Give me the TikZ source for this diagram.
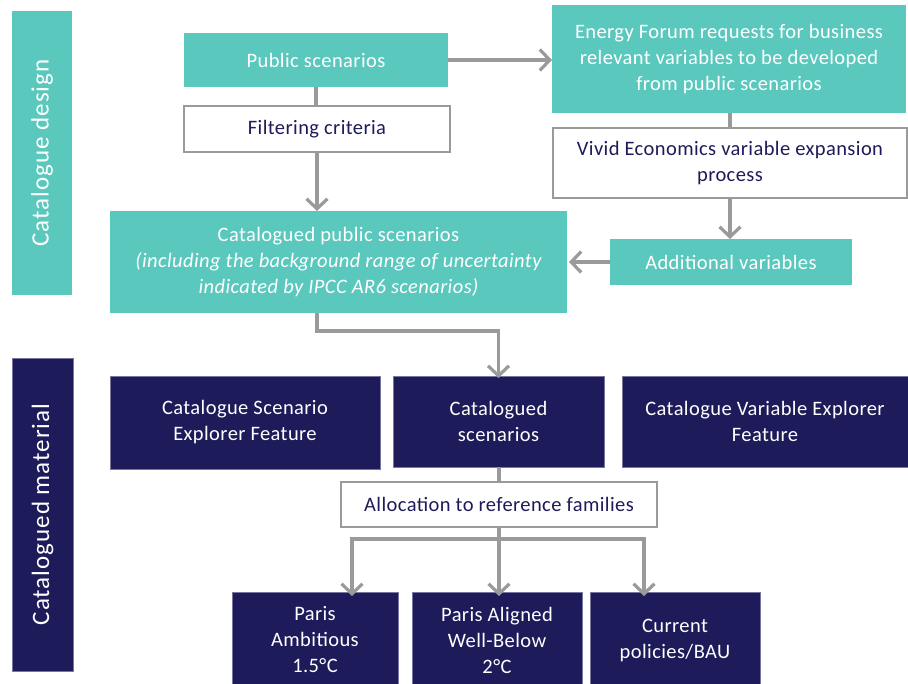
\documentclass[tikz,border=0pt]{standalone}
\usepackage{fontspec}
\setmainfont{Carlito}[LetterSpace=2]
\newfontfamily\sidefont{Carlito}[LetterSpace=4]
\usetikzlibrary{arrows.meta}

\definecolor{cteal}{RGB}{91,200,190}
\definecolor{cnavy}{RGB}{30,27,90}
\definecolor{cnavyedge}{RGB}{120,118,160}
\definecolor{cgray}{RGB}{154,154,154}

\begin{document}
\begin{tikzpicture}[x=1pt,y=-1pt,
  base/.style={rectangle, inner sep=0pt, outer sep=0pt, align=center,
               font=\fontsize{20.5}{26}\selectfont},
  tealbox/.style={base, fill=cteal, text=white},
  navybox/.style={base, fill=cnavy, text=white, draw=cnavyedge, line width=0.7pt},
  whitebox/.style={base, fill=white, draw=cgray, line width=2.5pt, text=cnavy},
  sidelabel/.style={base, font=\sidefont\fontsize{25}{28}\selectfont},
  link/.style={draw=cgray, line width=3.2pt},
  arr/.style={link, -{Straight Barb[length=10pt,width=21pt]}},
  wh/.style 2 args={minimum width=#1, minimum height=#2}
]
\useasboundingbox (0,0) rectangle (908,684);

% side bands
\node[tealbox, wh={60pt}{284pt}] (design) at (42,153) {};
\node[rotate=90, text=white, sidelabel] at (design.center) {Catalogue design};
\node[navybox, wh={61pt}{313pt}] (material) at (42.5,514.5) {};
\node[rotate=90, text=white, sidelabel] at (material.center) {Catalogued material};

% catalogue design
\node[tealbox, wh={264pt}{54pt}] (pub) at (316,60) {Public scenarios};
\node[whitebox, wh={266pt}{46pt}] (filt) at (317,129) {Filtering criteria};
\node[tealbox, wh={457pt}{102pt}] (catpub) at (338.5,262)
  {Catalogued public scenarios\\
   \itshape (including the background range of uncertainty\\
   \itshape indicated by IPCC AR6 scenarios)};
\node[tealbox, wh={354pt}{108pt}] (ef) at (729,59)
  {Energy Forum requests for business\\relevant variables to be developed\\from public scenarios};
\node[whitebox, wh={354pt}{70pt}] (vivid) at (730,163)
  {Vivid Economics variable expansion\\process};
\node[tealbox, wh={242pt}{46pt}] (addv) at (731,262) {Additional variables};

% catalogued material
\node[navybox, wh={270pt}{93pt}] (cse) at (245,422.5)
  {Catalogue Scenario\\Explorer Feature};
\node[navybox, wh={211pt}{91pt}] (cs) at (498.5,421.5)
  {Catalogued\\scenarios};
\node[navybox, wh={286pt}{91pt}] (cve) at (765,421.5)
  {Catalogue Variable Explorer\\Feature};
\node[whitebox, wh={316pt}{45pt}] (alloc) at (499,504.5)
  {Allocation to reference families};
\node[navybox, wh={166pt}{96pt}] (pa) at (315,640)
  {Paris\\Ambitious\\1.5°C};
\node[navybox, wh={170pt}{96pt}] (paw) at (497,640)
  {Paris Aligned\\Well-Below\\2°C};
\node[navybox, wh={170pt}{96pt}] (cur) at (675,640)
  {Current\\policies/BAU};

% connectors
\draw[link] (pub.south) -- (pub.south |- filt.north);
\draw[arr] (filt.south) -- (filt.south |- catpub.north);
\draw[arr] (pub.east) -- (pub.east -| ef.west);
\draw[link] (ef.south -| vivid.north) -- (vivid.north);
\draw[arr] (vivid.south) -- (vivid.south |- addv.north);
\draw[arr] (addv.west) -- ([xshift=2pt]addv.west -| catpub.east);
\draw[arr] (catpub.south -| filt.south) -- ++(0,18) -| ([yshift=-2pt]cs.north);
\draw[link] (cs.south -| alloc.north) -- (alloc.north);
\draw[link] (alloc.south) -- ++(0,12) coordinate (split);
\draw[arr] (split) -- ([yshift=-4pt]split |- paw.north);
\draw[arr] ([xshift=-1.6pt]split) -| ([xshift=37pt,yshift=-4pt]pa.north);
\draw[arr] ([xshift=1.6pt]split) -| ([xshift=-31pt,yshift=-4pt]cur.north);
\end{tikzpicture}
\end{document}
